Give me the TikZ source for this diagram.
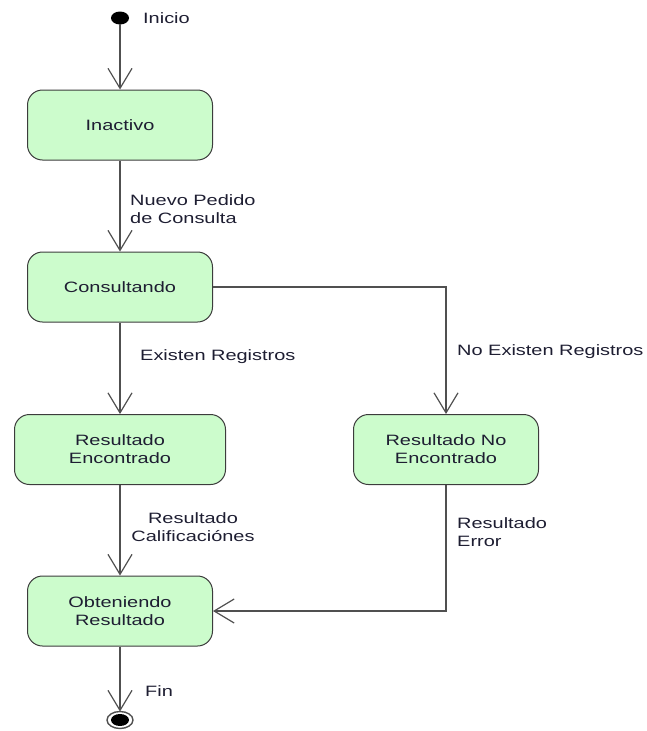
\documentclass[tikz,border=0pt]{standalone}
\usepackage{fontspec}
\setmainfont{Liberation Sans}[FakeStretch=1.33]
\usetikzlibrary{arrows.meta}
\definecolor{statefill}{RGB}{204,252,204}
\definecolor{bordercol}{RGB}{60,60,60}
\definecolor{linecol}{RGB}{80,80,80}
\definecolor{txtcol}{RGB}{30,30,50}
\tikzset{
  statebox/.style={draw=bordercol, fill=statefill, rounded corners=15pt, minimum width=185pt, minimum height=70pt, line width=1pt, align=center, text=txtcol, font=\fontsize{15}{18}\selectfont},
  arr/.style={draw=linecol, line width=1.4pt, -{Straight Barb[length=20pt,width=24pt,line width=1.2pt]}},
  conn/.style={draw=linecol, line width=1.4pt},
  lbl/.style={text=txtcol, font=\fontsize{15}{18}\selectfont, align=left, inner sep=0pt},
}
\begin{document}
\begin{tikzpicture}[x=1pt,y=-1pt]
\useasboundingbox (0,0) rectangle (647,731);
\coordinate (init) at (120,18);
\fill[black] (init) ellipse [x radius=9pt, y radius=6.5pt];
\node[statebox] (inact) at (120,125) {Inactivo};
\node[statebox] (cons) at (120,287) {Consultando};
\node[statebox, minimum width=211pt] (renc) at (120,449.5) {Resultado\\Encontrado};
\node[statebox] (rno) at (446,449.5) {Resultado No\\Encontrado};
\node[statebox] (obt) at (120,611) {Obteniendo\\Resultado};
\coordinate (fin) at (120,720);
\coordinate (initb) at (120,24);
\draw[conn] (fin) ellipse [x radius=13pt, y radius=8.5pt];
\fill[black] (fin) ellipse [x radius=9pt, y radius=6pt];
\coordinate (fintop) at (120,711.5);
\draw[arr] (initb) -- (inact.north);
\draw[arr] (inact) -- (cons);
\draw[arr] (cons) -- (renc);
\draw[arr] (cons.east) -| (rno.north);
\draw[arr] (renc) -- (obt);
\draw[arr] (rno.south) |- (obt.east);
\draw[arr] (obt) -- (fintop);
\node[lbl, anchor=west] (l1) at (143,18) {Inicio};
\node[lbl, anchor=west] (l2) at (130,209) {Nuevo Pedido\\de Consulta};
\node[lbl, anchor=west] (l3) at (140,357) {Existen Registros};
\node[lbl, anchor=west] (l4) at (457,352) {No Existen Registros};
\node[lbl, align=center] (l5) at (193,527) {Resultado\\Calificaciónes};
\node[lbl, anchor=west] (l6) at (457,532) {Resultado\\Error};
\node[lbl, anchor=west] (l7) at (145,691) {Fin};
\end{tikzpicture}
\end{document}
